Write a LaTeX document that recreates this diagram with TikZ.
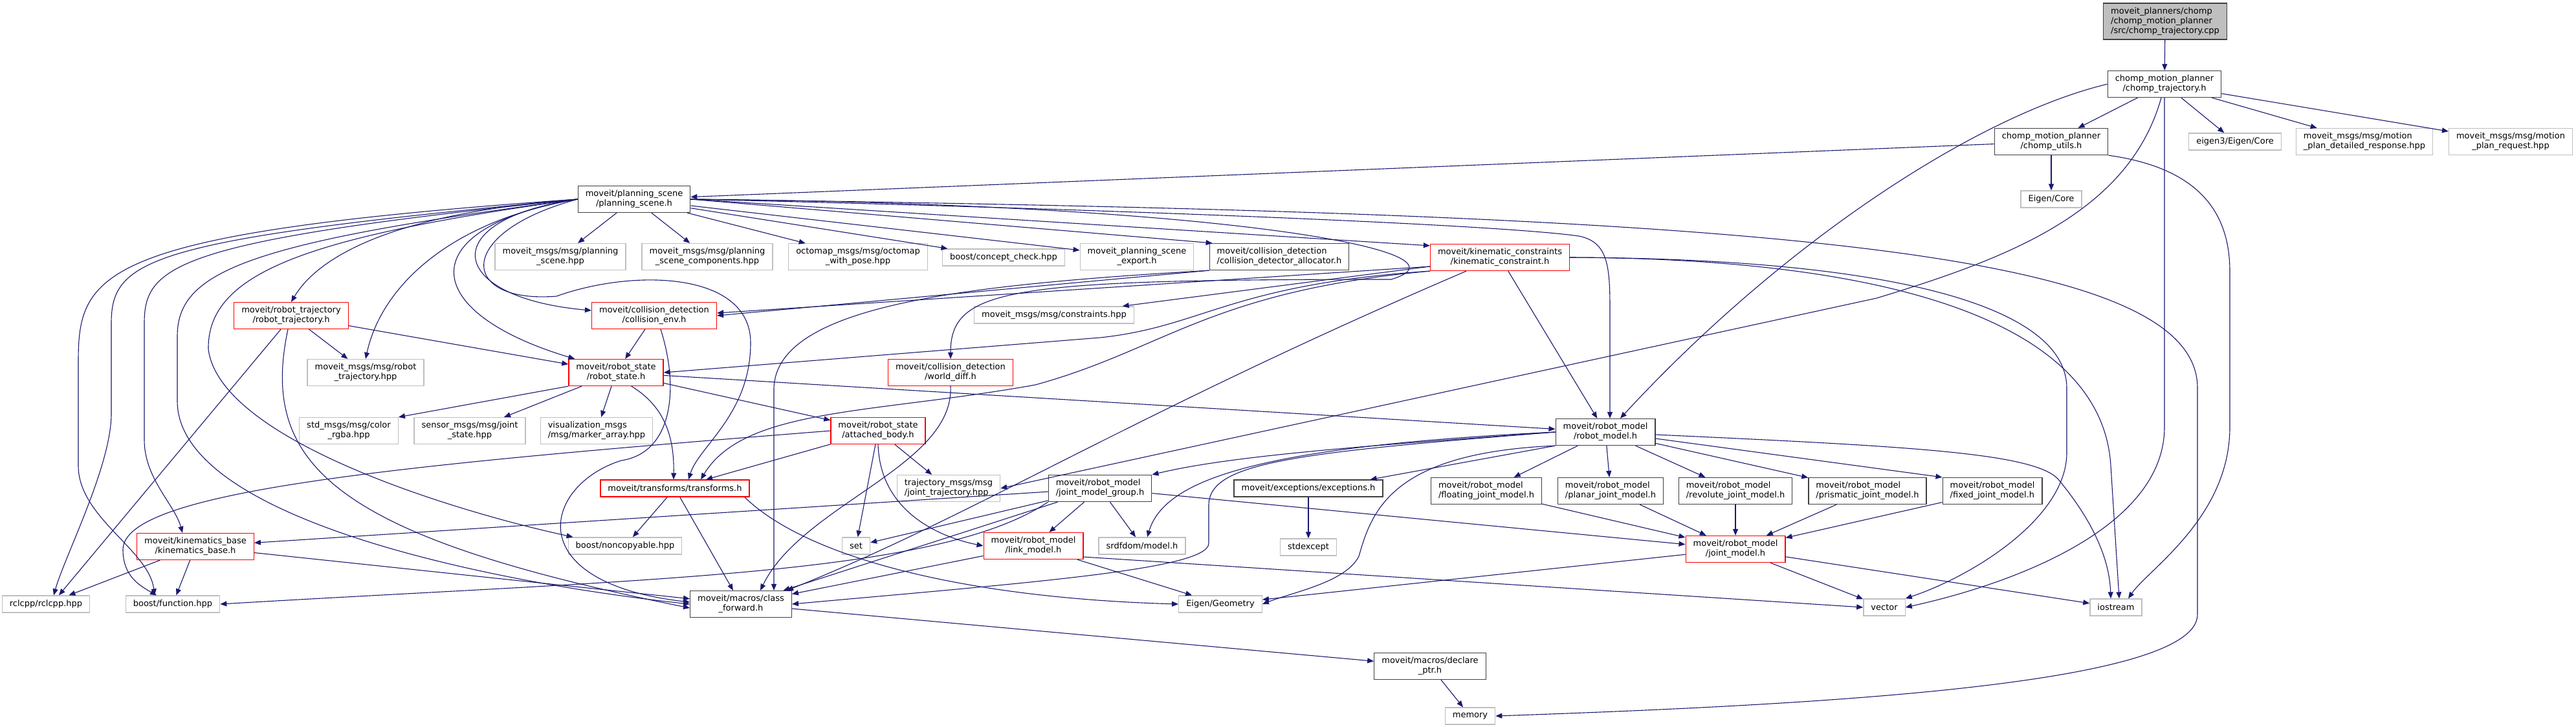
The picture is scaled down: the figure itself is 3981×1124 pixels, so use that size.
\documentclass[tikz,border=0pt]{standalone}
\usepackage{fontspec}
\setmainfont{DejaVu Sans}
\usetikzlibrary{arrows.meta}
\definecolor{edgeblue}{HTML}{191970}
\definecolor{docgray}{HTML}{404040}
\definecolor{extgray}{HTML}{BFBFBF}

\begin{document}
\begin{tikzpicture}[x=1pt, y=-1pt,
  every node/.style={font=\fontsize{13}{15}\selectfont, align=center, inner xsep=11.5pt, inner ysep=6.5pt, minimum height=26pt, line width=1.3pt, fill=white},
  docbox/.style={draw=docgray},
  extbox/.style={draw=extgray},
  redbox/.style={draw=red},
  rootbox/.style={draw=docgray, fill=extgray},
  dep/.style={draw=edgeblue, line width=1.1pt, -{Triangle[length=10pt,width=8pt]}}]
  \useasboundingbox (0,0) rectangle (3981,1124);
  \node[rootbox, align=left] (cpp) at (3346,33) {moveit\_planners/chomp\\/chomp\_motion\_planner\\/src/chomp\_trajectory.cpp};
  \node[docbox] (ctraj) at (3345,130) {chomp\_motion\_planner\\/chomp\_trajectory.h};
  \node[docbox] (cutils) at (3170,219) {chomp\_motion\_planner\\/chomp\_utils.h};
  \node[extbox] (eigencore3) at (3454,219) {eigen3/Eigen/Core};
  \node[extbox, align=left] (planresp) at (3654,219) {moveit\_msgs/msg/motion\\\_plan\_detailed\_response.hpp};
  \node[extbox] (planreq) at (3880,219) {moveit\_msgs/msg/motion\\\_plan\_request.hpp};
  \node[extbox] (eigencore) at (3170,308) {Eigen/Core};
  \node[docbox] (pscene) at (980,308) {moveit/planning\_scene\\/planning\_scene.h};
  \node[extbox] (psmsg) at (866,397) {moveit\_msgs/msg/planning\\\_scene.hpp};
  \node[extbox] (pscomp) at (1093,397) {moveit\_msgs/msg/planning\\\_scene\_components.hpp};
  \node[extbox] (octomap) at (1326,397) {octomap\_msgs/msg/octomap\\\_with\_pose.hpp};
  \node[extbox] (concept) at (1551,398) {boost/concept\_check.hpp};
  \node[extbox] (psexport) at (1757,397) {moveit\_planning\_scene\\\_export.h};
  \node[docbox, align=left] (allocator) at (1977,397) {moveit/collision\_detection\\/collision\_detector\_allocator.h};
  \node[redbox] (kinconstr) at (2318,398) {moveit/kinematic\_constraints\\/kinematic\_constraint.h};
  \node[redbox] (rtraj) at (450,488) {moveit/robot\_trajectory\\/robot\_trajectory.h};
  \node[redbox] (cenv) at (1011,488) {moveit/collision\_detection\\/collision\_env.h};
  \node[extbox] (constraints) at (1629,487) {moveit\_msgs/msg/constraints.hpp};
  \node[extbox] (rtrajmsg) at (565,576) {moveit\_msgs/msg/robot\\\_trajectory.hpp};
  \node[redbox] (rstate) at (952,576) {moveit/robot\_state\\/robot\_state.h};
  \node[redbox] (worlddiff) at (1469,576) {moveit/collision\_detection\\/world\_diff.h};
  \node[docbox] (rmodel) at (2481,668) {moveit/robot\_model\\/robot\_model.h};
  \node[extbox] (rgba) at (539,666) {std\_msgs/msg/color\\\_rgba.hpp};
  \node[extbox] (jstate) at (726,666) {sensor\_msgs/msg/joint\\\_state.hpp};
  \node[extbox, align=left] (markers) at (922,666) {visualization\_msgs\\/msg/marker\_array.hpp};
  \node[redbox] (attached) at (1357,666) {moveit/robot\_state\\/attached\_body.h};
  \node[redbox] (transforms) at (1043,755) {moveit/transforms/transforms.h};
  \node[extbox, align=left] (jtraj) at (1466,755) {trajectory\_msgs/msg\\/joint\_trajectory.hpp};
  \node[docbox, align=left] (jmg) at (1700,755) {moveit/robot\_model\\/joint\_model\_group.h};
  \node[docbox] (exceptions) at (2022,755) {moveit/exceptions/exceptions.h};
  \node[docbox, align=left] (floating) at (2297,759) {moveit/robot\_model\\/floating\_joint\_model.h};
  \node[docbox, align=left] (planar) at (2489,759) {moveit/robot\_model\\/planar\_joint\_model.h};
  \node[docbox, align=left] (revolute) at (2682,759) {moveit/robot\_model\\/revolute\_joint\_model.h};
  \node[docbox, align=left] (prismatic) at (2886,759) {moveit/robot\_model\\/prismatic\_joint\_model.h};
  \node[docbox, align=left] (fixed) at (3079,759) {moveit/robot\_model\\/fixed\_joint\_model.h};
  \node[redbox] (kinbase) at (302,845) {moveit/kinematics\_base\\/kinematics\_base.h};
  \node[extbox] (noncopy) at (966,844) {boost/noncopyable.hpp};
  \node[extbox] (set) at (1323,844) {set};
  \node[redbox] (linkmodel) at (1597,844) {moveit/robot\_model\\/link\_model.h};
  \node[extbox] (srdf) at (1765,844) {srdfdom/model.h};
  \node[extbox] (stdexcept) at (2022,846) {stdexcept};
  \node[redbox] (jmodel) at (2682,849) {moveit/robot\_model\\/joint\_model.h};
  \node[extbox] (rclcpp) at (71,934) {rclcpp/rclcpp.hpp};
  \node[extbox] (bfunction) at (267,934) {boost/function.hpp};
  \node[docbox] (classfwd) at (1145,934) {moveit/macros/class\\\_forward.h};
  \node[extbox] (eigengeo) at (1886,934) {Eigen/Geometry};
  \node[extbox] (vector) at (2912,939) {vector};
  \node[extbox] (iostream) at (3270,939) {iostream};
  \node[docbox] (declptr) at (2210,1030) {moveit/macros/declare\\\_ptr.h};
  \node[extbox] (memory) at (2272,1107) {memory};
  \draw[dep] (cpp) -- (ctraj);
  \draw[dep] (ctraj) -- (cutils);
  \draw[dep] (ctraj) -- (eigencore3);
  \draw[dep] (ctraj) -- (planresp);
  \draw[dep] (ctraj) -- (planreq);
  \draw[dep] (ctraj.west) .. controls (3050,180) and (2750,380) .. ([xshift=23pt]rmodel.north);
  \draw[dep] ([xshift=-5pt]ctraj.south) .. controls (3290,330) and (3100,400) .. (2900,461) -- (jtraj.east);
  \draw[dep] (ctraj.south) -- (3345,660) .. controls (3345,820) and (3100,905) .. (vector.east);
  \draw[dep] (cutils) -- (eigencore);
  \draw[dep] (cutils) -- (pscene);
  \draw[dep] (cutils.south east) .. controls (3400,260) and (3446,330) .. (3446,420) -- (3446,660) .. controls (3446,800) and (3320,880) .. ([xshift=19pt]iostream.north);
  \draw[dep] (pscene) -- (psmsg);
  \draw[dep] (pscene) -- (pscomp);
  \draw[dep] (pscene) -- (octomap);
  \draw[dep] (pscene) -- (concept);
  \draw[dep] (pscene) -- (psexport);
  \draw[dep] (pscene.east) -- ([xshift=5pt]allocator.north west);
  \draw[dep] (pscene.east) -- ([yshift=-3pt]kinconstr.north west);
  \draw[dep] (pscene.east) .. controls (1600,320) and (2300,345) .. (2440,365) .. controls (2490,375) and (2488,420) .. (2488,500) -- ([xshift=7pt]rmodel.north);
  \draw[dep] (pscene.east) .. controls (2700,330) and (3396,380) .. (3396,600) -- (3396,950) .. controls (3396,1060) and (2800,1090) .. (memory.east);
  \draw[dep] (pscene.east) .. controls (1900,315) and (2290,390) .. (2150,432) .. controls (1560,432) and (1469,445) .. (worlddiff.north);
  \draw[dep] (pscene.west) .. controls (600,330) and (490,400) .. (rtraj.north);
  \draw[dep] (pscene.west) .. controls (700,340) and (590,440) .. (rtrajmsg.north);
  \draw[dep] (pscene.west) .. controls (640,350) and (640,480) .. ([xshift=10pt]rstate.north west);
  \draw[dep] (pscene.west) .. controls (670,340) and (690,460) .. ([yshift=8pt]cenv.west);
  \draw[dep] (pscene.west) .. controls (700,360) and (710,470) .. (860,458) .. controls (980,415) and (1160,420) .. (1160,530) .. controls (1160,640) and (1080,690) .. ([xshift=21pt]transforms.north);
  \draw[dep] (pscene.west) .. controls (150,360) and (121,420) .. (121,560) -- (121,720) .. controls (121,800) and (230,850) .. ([xshift=-28pt]bfunction.north);
  \draw[dep] (pscene.west) .. controls (230,370) and (172,400) .. (172,500) -- (172,640) .. controls (172,720) and (100,860) .. ([xshift=12pt]rclcpp.north);
  \draw[dep] (pscene.west) .. controls (270,372) and (223,410) .. (223,500) -- (223,680) .. controls (223,740) and (270,780) .. ([xshift=-20pt]kinbase.north);
  \draw[dep] (pscene.west) .. controls (380,375) and (274,420) .. (274,520) -- (274,620) .. controls (274,800) and (750,900) .. (classfwd.west);
  \draw[dep] (pscene.west) .. controls (480,365) and (320,420) .. (322,540) .. controls (340,680) and (700,790) .. ([xshift=8pt]noncopy.north west);
  \draw[dep] (rtraj) -- (rstate);
  \draw[dep] (rtraj) -- (rtrajmsg);
  \draw[dep] ([xshift=-16pt]rtraj.south) -- ([xshift=20pt]rclcpp.north);
  \draw[dep] ([xshift=-5pt]rtraj.south) .. controls (400,720) and (520,830) .. ([yshift=-6pt]classfwd.west);
  \draw[dep] (cenv) -- (rstate);
  \draw[dep] ([xshift=10pt]cenv.south) .. controls (1050,600) and (1040,700) .. (960,712) .. controls (840,750) and (800,900) .. ([yshift=3pt]classfwd.west);
  \draw[dep] (allocator.south west) -- (cenv.east);
  \draw[dep] (allocator.south west) .. controls (1500,440) and (1200,470) .. (1196,600) -- ([xshift=51pt]classfwd.north);
  \draw[dep] (kinconstr) -- (constraints);
  \draw[dep] ([yshift=-14pt]kinconstr.west) -- ([yshift=4pt]cenv.east);
  \draw[dep] (kinconstr.south west) .. controls (1900,440) and (1860,505) .. (1700,522) -- (rstate.east);
  \draw[dep] (kinconstr.south west) .. controls (1870,450) and (1800,540) .. (1600,595) .. controls (1350,640) and (1150,630) .. ([xshift=40pt]transforms.north);
  \draw[dep] ([xshift=-52pt]kinconstr.south) .. controls (1750,640) and (1500,800) .. ([xshift=-8pt]classfwd.north east);
  \draw[dep] (kinconstr) -- (rmodel);
  \draw[dep] (kinconstr.east) .. controls (2950,400) and (3194,480) .. (3194,600) -- (3194,700) .. controls (3194,800) and (3050,890) .. (vector.north east);
  \draw[dep] (kinconstr.east) .. controls (2980,400) and (3250,520) .. (3262,720) -- ([xshift=5pt]iostream.north);
  \draw[dep] (rstate.south west) -- (rgba.north east);
  \draw[dep] (rstate) -- (jstate);
  \draw[dep] (rstate) -- (markers);
  \draw[dep] (rstate) -- (attached);
  \draw[dep] (rstate) -- (rmodel);
  \draw[dep] ([xshift=-50pt]rstate.south east) .. controls (1030,630) and (1042,680) .. ([xshift=-2pt]transforms.north);
  \draw[dep] (worlddiff.south) .. controls (1475,720) and (1240,780) .. ([xshift=30pt]classfwd.north);
  \draw[dep] (attached) -- (transforms);
  \draw[dep] (attached) -- (jtraj);
  \draw[dep] (attached) -- (set);
  \draw[dep] (attached.south) .. controls (1360,790) and (1450,830) .. (linkmodel.west);
  \draw[dep] (attached.west) .. controls (600,720) and (190,760) .. (190,850) .. controls (190,890) and (215,905) .. ([xshift=-25pt]bfunction.north);
  \draw[dep] (jmg) -- (kinbase);
  \draw[dep] (jmg.south west) .. controls (1450,890) and (1000,895) .. (bfunction.east);
  \draw[dep] (jmg) -- (set);
  \draw[dep] (jmg) -- (linkmodel);
  \draw[dep] (jmg) -- (srdf);
  \draw[dep] (jmg) -- (classfwd);
  \draw[dep] (jmg) -- (jmodel);
  \draw[dep] (rmodel.west) .. controls (2100,690) and (1900,705) .. (jmg.north east);
  \draw[dep] (rmodel.west) .. controls (1950,690) and (1800,740) .. ([xshift=8pt]srdf.north);
  \draw[dep] (rmodel.south west) -- ([xshift=-20pt]exceptions.north east);
  \draw[dep] (rmodel.west) .. controls (2000,700) and (1870,715) .. (1868,780) -- (1868,840) .. controls (1868,880) and (1600,900) .. (classfwd.east);
  \draw[dep] (rmodel.south west) .. controls (2150,700) and (2120,790) .. (2100,860) .. controls (2080,900) and (2000,915) .. (eigengeo.east);
  \draw[dep] (rmodel) -- (floating);
  \draw[dep] (rmodel) -- (planar);
  \draw[dep] (rmodel) -- (revolute);
  \draw[dep] (rmodel) -- (prismatic);
  \draw[dep] ([yshift=-10pt]rmodel.east) -- (fixed.north west);
  \draw[dep] ([yshift=-4pt]rmodel.east) .. controls (2950,690) and (3140,700) .. (3180,740) .. controls (3230,800) and (3260,860) .. ([xshift=-8pt]iostream.north);
  \draw[dep] (floating) -- (jmodel);
  \draw[dep] (planar) -- (jmodel);
  \draw[dep] (revolute) -- (jmodel);
  \draw[dep] (prismatic) -- (jmodel);
  \draw[dep] (fixed) -- (jmodel);
  \draw[dep] (jmodel) -- (vector);
  \draw[dep] (jmodel) -- (iostream);
  \draw[dep] (jmodel) -- (eigengeo);
  \draw[dep] (linkmodel) -- (classfwd);
  \draw[dep] (linkmodel) -- (eigengeo);
  \draw[dep] ([yshift=-17pt]linkmodel.east) -- (vector.west);
  \draw[dep] (transforms) -- (noncopy);
  \draw[dep] (transforms) -- (classfwd);
  \draw[dep] ([xshift=-8pt]transforms.south east) .. controls (1250,865) and (1500,925) .. (eigengeo.west);
  \draw[dep] (kinbase) -- (rclcpp);
  \draw[dep] (kinbase) -- (bfunction);
  \draw[dep] (kinbase) -- (classfwd);
  \draw[dep] (exceptions) -- (stdexcept);
  \draw[dep] (classfwd) -- (declptr);
  \draw[dep] (declptr) -- (memory);
\end{tikzpicture}
\end{document}
